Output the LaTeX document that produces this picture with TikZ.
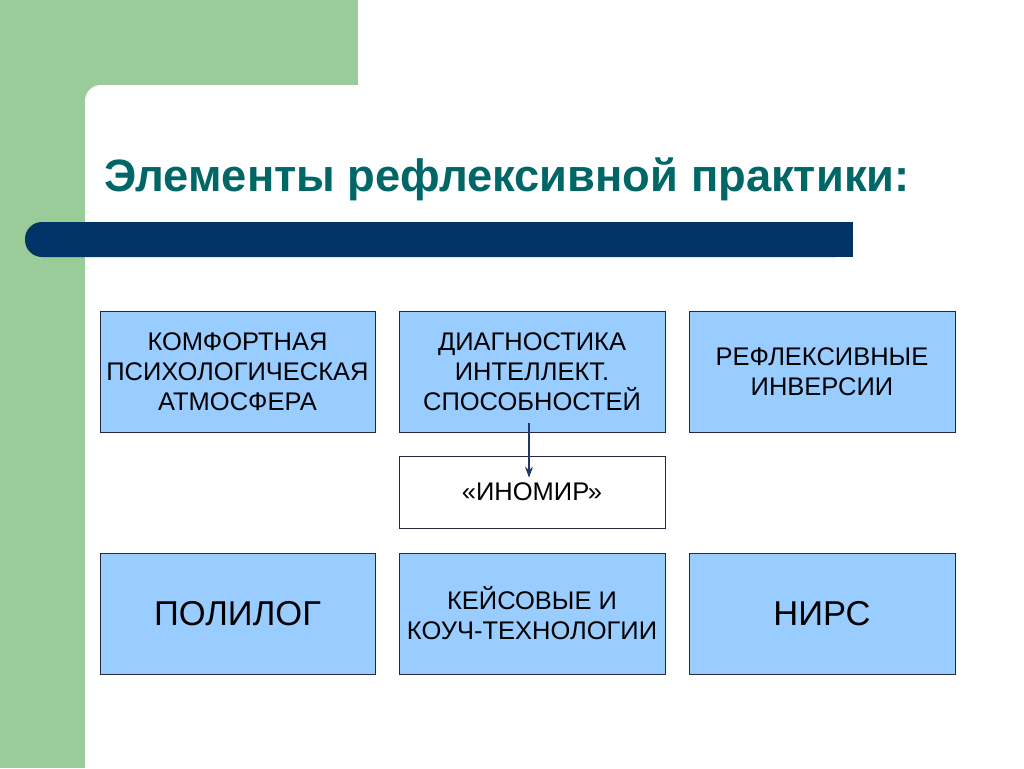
\documentclass[tikz,border=0pt]{standalone}
\usepackage{fontspec}
\setmainfont{Liberation Sans}
\usepackage{xcolor}
\definecolor{mygreen}{RGB}{153,204,153}
\definecolor{mynavy}{RGB}{0,51,102}
\definecolor{myteal}{RGB}{0,102,102}
\definecolor{myblue}{RGB}{153,204,255}
\definecolor{myborder}{RGB}{40,40,60}
\definecolor{myarrow}{RGB}{31,56,100}
\usepackage{tikz}
\usetikzlibrary{arrows.meta}
\newcommand{\widthbox}{266pt}
\newcommand{\widthwide}{275pt}
\newcommand{\heightbox}{121pt}
\tikzset{
    common/.style={draw=myborder, line width=0.8pt, rectangle, align=center, inner sep=2pt},
    item/.style={common, fill=myblue, minimum width=\widthbox, minimum height=\heightbox,
        font=\fontsize{25.5}{30}\selectfont},
    wideitem/.style={item, minimum width=\widthwide},
    bigitem/.style={font=\fontsize{34.5}{40}\selectfont},
    plainitem/.style={common, fill=white, minimum width=\widthbox, minimum height=72pt,
        font=\fontsize{25.5}{30}\selectfont},
    link/.style={-{Stealth[length=11pt, width=8pt]}, myarrow, line width=1.2pt}
}

\begin{document}
\begin{tikzpicture}[x=1pt, y=-1pt]
      \useasboundingbox (0,0) rectangle (1024,768);
      \clip (0,0) rectangle (1024,768);

      % background
      \fill[mygreen] (0,0) rectangle (358,120);
      \fill[mygreen] (0,0) rectangle (85,768);
      \fill[white, rounded corners=16pt] (85,85) rectangle (1100,850);
      \fill[mynavy, rounded corners=17pt] (25,222) rectangle (853,257);
      \fill[mynavy] (800,222) rectangle (853,257);

      \node[anchor=base west, text=myteal, font=\fontsize{45.3}{50}\selectfont\bfseries] (title)
          at (101,191) {Элементы рефлексивной практики:};

      \path
          (237.5,371.5) node[wideitem] (atmos) {КОМФОРТНАЯ\\ПСИХОЛОГИЧЕСКАЯ\\АТМОСФЕРА}
          to ++(294.5,0) node[item] (diag) {ДИАГНОСТИКА\\ИНТЕЛЛЕКТ.\\СПОСОБНОСТЕЙ}
          to ++(290,0) node[item] (invers) {РЕФЛЕКСИВНЫЕ\\ИНВЕРСИИ};

      \path
          (532,492) node[plainitem] (inomir) {«ИНОМИР»};

      \path
          (237.5,613.5) node[wideitem, bigitem] (polilog) {ПОЛИЛОГ}
          to ++(294.5,0) node[item] (cases) {КЕЙСОВЫЕ И\\КОУЧ-ТЕХНОЛОГИИ}
          to ++(290,0) node[item, bigitem] (nirs) {НИРС};

      \draw[link, shorten <=-9pt, shorten >=-22pt]
          ([xshift=-3pt]diag.south) -- ([xshift=-3pt]inomir.north);

  \end{tikzpicture}
\end{document}
